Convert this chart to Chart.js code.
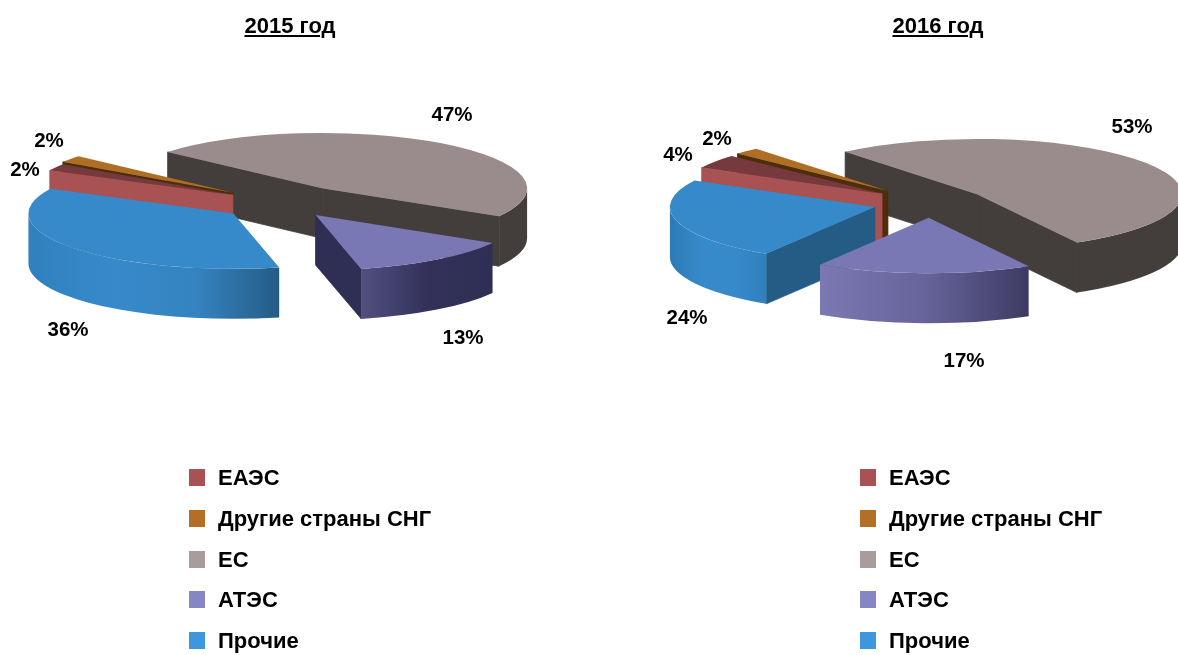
<!DOCTYPE html>
<html lang="ru">
<head>
<meta charset="utf-8">
<title>2015 / 2016</title>
<script src="https://cdn.jsdelivr.net/npm/chart.js@4"></script>
<style>
    html, body { margin: 0; padding: 0; background: #fff; }
    body { position: relative; width: 1178px; height: 655px; overflow: hidden; font-family: "Liberation Sans", Arial, sans-serif; font-weight: bold; color: #000; }
    canvas { position: absolute; top: 0; }
    .title { position: absolute; top: 13px; font-size: 22px; line-height: 26px; text-decoration: underline; transform: translateX(-50%); }
    .legend-row { position: absolute; font-size: 22px; line-height: 24px; white-space: nowrap; }
    .legend-row i { position: absolute; left: -29px; top: 3px; width: 16px; height: 17px; }
</style>
</head>
<body>
<canvas id="pie2015" width="589" height="655" style="left:0"></canvas>
<canvas id="pie2016" width="589" height="655" style="left:589px"></canvas>
<div class="title" style="left:290px" id="title2015"></div>
<div class="title" style="left:938px" id="title2016"></div>
<script>
// Data
const categories = ['ЕАЭС', 'Другие страны СНГ', 'ЕС', 'АТЭС', 'Прочие'];
const years = ['2015 год', '2016 год'];
const values2015 = [2, 2, 47, 13, 36];
const values2016 = [4, 2, 53, 17, 24];

// Colours
const legendColors = ['#a85254', '#b46f27', '#a89c9c', '#8686c4', '#3e96dc'];
const topColors = ['#763a3e', '#b06e25', '#9a8c8c', '#7a78b4', '#378aca'];
const wallColors = ['#a85254', '#4e2d0c', '#433e3c', '#2f2e54', '#245c86'];
const rimStops2015 = [['#a85254', '#a85254'], ['#4e2d0c', '#4e2d0c'], ['#433e3c', '#433e3c'], ['#51507f', '#33315a', '#2f2e54'], ['#3080bc', '#378aca', '#3583c0', '#245c86']];
const rimStops2016 = [['#a85254', '#a85254'], ['#4e2d0c', '#4e2d0c'], ['#433e3c', '#433e3c'], ['#7b78b2', '#67649c', '#3d3a62'], ['#2d7ab5', '#378aca', '#378aca', '#3080bc']];

// Look of the fake 3D
const tilt = 0.27;
const depth = 50;
const pieRadius = 205;
const drawOrder = [2, 1, 0, 4, 3];

function drawSlice(ctx, arc, i, cfg) {
    const { x, y, startAngle, endAngle, outerRadius } = arc.getProps(['x', 'y', 'startAngle', 'endAngle', 'outerRadius']);
    const mid = (startAngle + endAngle) / 2;
    const px = x + Math.cos(mid) * cfg.explode[i];
    const py = y + Math.sin(mid) * cfg.explode[i] * tilt;

    // flat walls along the cut, only when they face the viewer
    function wall(a) {
        const ex = px + Math.cos(a) * outerRadius;
        const ey = py + Math.sin(a) * outerRadius * tilt;
        ctx.fillStyle = wallColors[i];
        ctx.strokeStyle = wallColors[i];
        ctx.lineWidth = 0.8;
        ctx.beginPath();
        ctx.moveTo(px, py);
        ctx.lineTo(ex, ey);
        ctx.lineTo(ex, ey + depth);
        ctx.lineTo(px, py + depth);
        ctx.closePath();
        ctx.fill();
        ctx.stroke();
    }
    if (Math.cos(startAngle) < 0) wall(startAngle);
    if (Math.cos(endAngle) > 0) wall(endAngle);

    // outer rim, front half of the ellipse only
    for (let k = -1; k <= 2; k++) {
        const a0 = Math.max(startAngle, k * 2 * Math.PI);
        const a1 = Math.min(endAngle, k * 2 * Math.PI + Math.PI);
        if (a1 <= a0) continue;
        const grad = ctx.createLinearGradient(px + Math.cos(a1) * outerRadius, 0, px + Math.cos(a0) * outerRadius, 0);
        const stops = cfg.rimStops[i];
        stops.forEach((c, n) => grad.addColorStop(n / (stops.length - 1), c));
        ctx.fillStyle = grad;
        ctx.beginPath();
        ctx.ellipse(px, py, outerRadius, outerRadius * tilt, 0, a0, a1);
        ctx.ellipse(px, py + depth, outerRadius, outerRadius * tilt, 0, a1, a0, true);
        ctx.closePath();
        ctx.fill();
    }

    // top face is the library's own arc, squashed
    ctx.save();
    ctx.translate(px, py);
    ctx.scale(1, tilt);
    ctx.translate(-x, -y);
    arc.draw(ctx);
    ctx.restore();
}

const pie3d = {
    id: 'pie3d',
    beforeDatasetsDraw(chart, args, opts) {
        const ctx = chart.ctx;
        const arcs = chart.getDatasetMeta(0).data;
        drawOrder.forEach(i => drawSlice(ctx, arcs[i], i, opts));

        ctx.fillStyle = '#000';
        ctx.font = 'bold 20.5px "Liberation Sans", Arial, sans-serif';
        ctx.textAlign = 'center';
        ctx.textBaseline = 'middle';
        chart.data.datasets[0].data.forEach((v, i) => {
            ctx.fillText(v + '%', opts.labelSpots[i][0], opts.labelSpots[i][1]);
        });
        return false;
    }
};

function makePie(id, values, rotation, padding, explode, rimStops, labelSpots) {
    new Chart(document.getElementById(id), {
        type: 'pie',
        data: {
            labels: categories,
            datasets: [{ data: values, backgroundColor: topColors, borderWidth: 0, radius: pieRadius }]
        },
        options: {
            responsive: false,
            animation: false,
            rotation: rotation,
            layout: { padding: padding },
            plugins: {
                legend: { display: false },
                tooltip: { enabled: false },
                pie3d: { explode: explode, rimStops: rimStops, labelSpots: labelSpots }
            }
        },
        plugins: [pie3d]
    });
}

makePie('pie2015', values2015, 296.7, { right: 23, bottom: 249 }, [58, 63, 67, 55, 63], rimStops2015,
    [[25, 170], [49, 141], [452, 115], [463, 338], [68, 330]]);
makePie('pie2016', values2016, 298.4, { left: 93, bottom: 249 }, [59, 61, 57, 55, 57], rimStops2016,
    [[89, 155], [128, 139], [543, 127], [375, 361], [98, 318]]);

document.getElementById('title2015').textContent = years[0];
document.getElementById('title2016').textContent = years[1];

// Legends stacked under each pie
const legendRows = [466, 507, 548, 588, 629];
[218, 889].forEach(left => {
    categories.forEach((name, i) => {
        const row = document.createElement('div');
        row.className = 'legend-row';
        row.style.left = left + 'px';
        row.style.top = legendRows[i] + 'px';
        const box = document.createElement('i');
        box.style.background = legendColors[i];
        row.appendChild(box);
        row.appendChild(document.createTextNode(name));
        document.body.appendChild(row);
    });
});
</script>
</body>
</html>
